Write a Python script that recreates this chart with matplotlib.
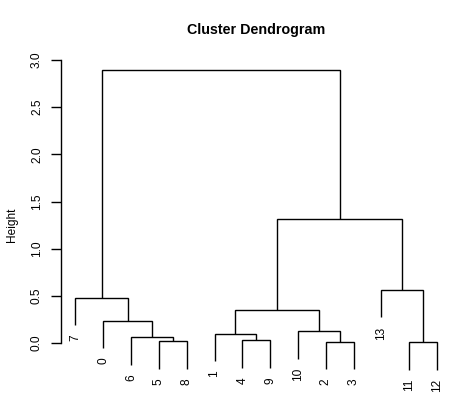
import matplotlib
matplotlib.use("Agg")
import matplotlib.pyplot as plt

# Leaf labels in dendrogram order
leaf_order = ['7', '0', '6', '5', '8', '1', '4', '9', '10', '2', '3', '13', '11', '12']
# merges: items are leaf labels (str) or index of previous merge (int)
merge_left = ['11', '2', '5', '4', '6', '1', '10', '0', 5, '7', '13', 8, 9]
merge_right = ['12', '3', '8', '9', 2, 3, 1, 4, 6, 7, 0, 10, 11]
merge_height = [0.008, 0.010, 0.018, 0.028, 0.060, 0.095, 0.124, 0.236, 0.350, 0.477, 0.562, 1.315, 2.890]
yticks = [0.0, 0.5, 1.0, 1.5, 2.0, 2.5, 3.0]

hang = 0.1 * max(merge_height)

W, H = 456, 416
fig = plt.figure(figsize=(W / 100, H / 100), dpi=100)
left_px, right_px = 61, 451.5
top_px, bot_px = 58, 381.7
ax = fig.add_axes([left_px / W, 1 - bot_px / H, (right_px - left_px) / W, (bot_px - top_px) / H])

n = len(leaf_order)
xpos = {lab: i + 1 for i, lab in enumerate(leaf_order)}
ax.set_xlim(1 - 0.04 * (n - 1), n + 0.04 * (n - 1))
ax.set_ylim(-0.41, 3.022)

node_x = {}
fs = 8.6
lw = 1.0

def get_xy(item, parent_h):
    if isinstance(item, int):
        return node_x[item], merge_height[item]
    x = xpos[item]
    y = parent_h - hang
    ax.text(x, y - 0.1, item, rotation=90, ha='center', va='top', fontsize=fs,
            family='Liberation Sans', color='black')
    return x, y

for i, (a, b, h) in enumerate(zip(merge_left, merge_right, merge_height)):
    xa, ya = get_xy(a, h)
    xb, yb = get_xy(b, h)
    ax.plot([xa, xa, xb, xb], [ya, h, h, yb], color='black', lw=lw, solid_capstyle='butt',
            solid_joinstyle='miter')
    node_x[i] = (xa + xb) / 2

for s in ['top', 'right', 'bottom']:
    ax.spines[s].set_visible(False)
ax.spines['left'].set_bounds(yticks[0], yticks[-1])
ax.spines['left'].set_linewidth(lw)
ax.set_xticks([])
ax.set_yticks(yticks)
ax.set_yticklabels([f"{t:.1f}" for t in yticks], rotation=90, va='center',
                   fontsize=fs, family='Liberation Sans')
ax.tick_params(axis='y', length=7, width=lw, pad=6)

fig.text(12 / W, 1 - 225 / H, 'Height', rotation=90, ha='center', va='center',
         fontsize=fs, family='Liberation Sans')

fig.text((left_px + right_px) / 2 / W, 1 - 30 / H, 'Cluster Dendrogram', ha='center', va='center',
         fontsize=10.3, fontweight='bold', family='Liberation Sans')

fig.savefig('out.png', dpi=100, facecolor='white')
